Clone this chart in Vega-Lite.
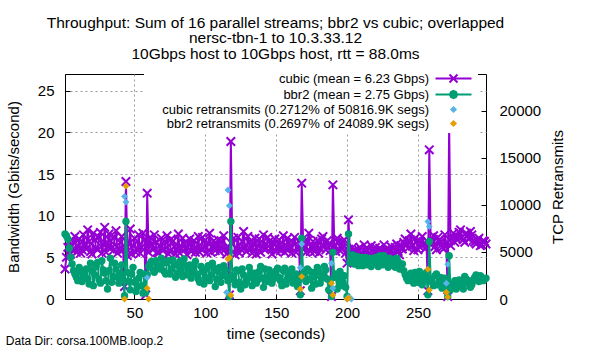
{
  "$schema": "https://vega.github.io/schema/vega-lite/v6.json",
  "autosize": {"type": "pad"},
  "padding": {"left": 5, "top": 15, "right": 5, "bottom": 5},
  "background": "white",
  "config": {"font": "Liberation Sans", "view": {"stroke": "black", "strokeWidth": 1}, "concat": {"spacing": 0}},
  "datasets": {
    "tput": [
      {"t":1,"cubic":3.6,"bbr2":7.8},{"t":3,"cubic":6.2,"bbr2":7.2},{"t":5,"cubic":5.4,"bbr2":5.0},{"t":7,"cubic":6.8,"bbr2":3.4},
      {"t":9,"cubic":5.6,"bbr2":2.6},{"t":11,"cubic":7.2,"bbr2":3.8},{"t":13,"cubic":5.9,"bbr2":2.1},{"t":15,"cubic":6.6,"bbr2":3.0},
      {"t":17,"cubic":8.3,"bbr2":2.4},{"t":19,"cubic":5.7,"bbr2":4.3},{"t":21,"cubic":7.9,"bbr2":1.6},{"t":23,"cubic":6.1,"bbr2":3.9},
      {"t":25,"cubic":7.4,"bbr2":2.3},{"t":27,"cubic":5.5,"bbr2":4.6},{"t":29,"cubic":8.6,"bbr2":3.1},{"t":31,"cubic":6.3,"bbr2":1.2},
      {"t":33,"cubic":7.0,"bbr2":4.9},{"t":35,"cubic":5.8,"bbr2":2.7},{"t":37,"cubic":8.2,"bbr2":3.6},{"t":39,"cubic":6.0,"bbr2":1.9},
      {"t":41,"cubic":7.5,"bbr2":4.1},{"t":43,"cubic":1.5,"bbr2":0.4},{"t":44,"cubic":14.1,"bbr2":9.3},{"t":45,"cubic":5.2,"bbr2":3.2},
      {"t":47,"cubic":8.4,"bbr2":1.1},{"t":49,"cubic":6.4,"bbr2":3.8},{"t":51,"cubic":5.6,"bbr2":0.9},{"t":53,"cubic":7.7,"bbr2":2.5},
      {"t":55,"cubic":6.2,"bbr2":1.6},{"t":57,"cubic":7.1,"bbr2":3.0},{"t":58,"cubic":0.5,"bbr2":0.8},{"t":59,"cubic":12.7,"bbr2":2.9},
      {"t":61,"cubic":7.4,"bbr2":4.2},{"t":63,"cubic":5.9,"bbr2":3.5},{"t":65,"cubic":6.8,"bbr2":4.6},{"t":67,"cubic":5.5,"bbr2":3.7},
      {"t":69,"cubic":7.3,"bbr2":4.9},{"t":71,"cubic":6.0,"bbr2":3.3},{"t":73,"cubic":7.6,"bbr2":4.4},{"t":75,"cubic":5.7,"bbr2":3.0},
      {"t":77,"cubic":6.9,"bbr2":4.7},{"t":79,"cubic":5.4,"bbr2":2.6},{"t":81,"cubic":7.8,"bbr2":4.0},{"t":83,"cubic":6.1,"bbr2":3.4},
      {"t":85,"cubic":6.7,"bbr2":4.8},{"t":87,"cubic":5.3,"bbr2":2.9},{"t":89,"cubic":7.2,"bbr2":4.1},{"t":91,"cubic":6.4,"bbr2":3.2},
      {"t":93,"cubic":5.6,"bbr2":4.5},{"t":95,"cubic":7.5,"bbr2":2.4},{"t":97,"cubic":6.0,"bbr2":3.9},{"t":99,"cubic":6.9,"bbr2":1.8},
      {"t":101,"cubic":5.5,"bbr2":3.6},{"t":103,"cubic":7.9,"bbr2":2.2},{"t":105,"cubic":6.3,"bbr2":4.3},{"t":107,"cubic":5.8,"bbr2":1.5},
      {"t":109,"cubic":7.1,"bbr2":3.3},{"t":111,"cubic":6.2,"bbr2":2.0},{"t":113,"cubic":7.6,"bbr2":4.0},{"t":115,"cubic":5.4,"bbr2":2.7},
      {"t":117,"cubic":0.5,"bbr2":0.3},{"t":118,"cubic":18.9,"bbr2":9.3},{"t":119,"cubic":6.6,"bbr2":2.8},{"t":121,"cubic":5.3,"bbr2":1.7},
      {"t":123,"cubic":7.4,"bbr2":3.4},{"t":125,"cubic":6.0,"bbr2":1.2},{"t":127,"cubic":8.1,"bbr2":2.9},{"t":129,"cubic":5.7,"bbr2":2.1},
      {"t":131,"cubic":6.8,"bbr2":3.8},{"t":133,"cubic":5.5,"bbr2":1.6},{"t":135,"cubic":7.3,"bbr2":3.1},{"t":137,"cubic":6.4,"bbr2":2.3},
      {"t":139,"cubic":5.6,"bbr2":3.9},{"t":141,"cubic":7.7,"bbr2":1.4},{"t":143,"cubic":6.1,"bbr2":2.6},{"t":145,"cubic":6.9,"bbr2":3.5},
      {"t":147,"cubic":5.4,"bbr2":1.9},{"t":149,"cubic":7.2,"bbr2":2.8},{"t":151,"cubic":6.3,"bbr2":3.7},{"t":153,"cubic":5.8,"bbr2":2.2},
      {"t":155,"cubic":7.6,"bbr2":3.4},{"t":157,"cubic":6.0,"bbr2":1.8},{"t":159,"cubic":6.7,"bbr2":2.9},{"t":161,"cubic":5.5,"bbr2":3.6},
      {"t":163,"cubic":7.4,"bbr2":2.4},{"t":165,"cubic":6.2,"bbr2":1.5},{"t":167,"cubic":1.0,"bbr2":0.5},{"t":168,"cubic":13.9,"bbr2":7.3},
      {"t":169,"cubic":6.8,"bbr2":3.0},{"t":171,"cubic":5.6,"bbr2":2.1},{"t":173,"cubic":7.9,"bbr2":3.4},{"t":175,"cubic":6.3,"bbr2":1.3},
      {"t":177,"cubic":5.7,"bbr2":2.7},{"t":179,"cubic":7.0,"bbr2":3.8},{"t":181,"cubic":6.1,"bbr2":1.9},{"t":183,"cubic":7.5,"bbr2":2.9},
      {"t":185,"cubic":5.9,"bbr2":3.5},{"t":187,"cubic":6.6,"bbr2":1.1},{"t":189,"cubic":0.3,"bbr2":0.3},{"t":190,"cubic":13.7,"bbr2":5.6},
      {"t":191,"cubic":6.4,"bbr2":2.6},{"t":193,"cubic":7.3,"bbr2":1.2},{"t":195,"cubic":5.8,"bbr2":3.3},{"t":197,"cubic":6.9,"bbr2":2.0},
      {"t":199,"cubic":5.5,"bbr2":1.4},{"t":200,"cubic":4.3,"bbr2":0.3},{"t":201,"cubic":9.5,"bbr2":7.8},{"t":203,"cubic":5.2,"bbr2":4.9},
      {"t":205,"cubic":5.8,"bbr2":4.2},{"t":207,"cubic":5.1,"bbr2":5.1},{"t":209,"cubic":6.2,"bbr2":4.5},{"t":211,"cubic":5.4,"bbr2":4.0},
      {"t":213,"cubic":6.0,"bbr2":5.0},{"t":215,"cubic":5.3,"bbr2":4.4},{"t":217,"cubic":6.4,"bbr2":3.9},{"t":219,"cubic":5.6,"bbr2":4.8},
      {"t":221,"cubic":5.0,"bbr2":4.3},{"t":223,"cubic":6.1,"bbr2":5.2},{"t":225,"cubic":5.4,"bbr2":4.1},{"t":227,"cubic":5.9,"bbr2":4.7},
      {"t":229,"cubic":5.2,"bbr2":3.8},{"t":231,"cubic":6.3,"bbr2":4.6},{"t":233,"cubic":5.5,"bbr2":4.0},{"t":235,"cubic":6.6,"bbr2":4.9},
      {"t":237,"cubic":5.3,"bbr2":3.6},{"t":239,"cubic":6.0,"bbr2":4.2},{"t":241,"cubic":7.2,"bbr2":2.9},{"t":243,"cubic":6.1,"bbr2":2.2},
      {"t":245,"cubic":7.8,"bbr2":3.1},{"t":247,"cubic":5.8,"bbr2":1.9},{"t":249,"cubic":6.9,"bbr2":2.6},{"t":251,"cubic":6.3,"bbr2":3.3},
      {"t":253,"cubic":7.5,"bbr2":1.7},{"t":255,"cubic":6.0,"bbr2":2.8},{"t":257,"cubic":1.0,"bbr2":0.5},{"t":258,"cubic":17.9,"bbr2":6.9},
      {"t":259,"cubic":6.5,"bbr2":2.4},{"t":261,"cubic":7.6,"bbr2":1.6},{"t":263,"cubic":5.9,"bbr2":3.0},{"t":265,"cubic":7.1,"bbr2":2.1},
      {"t":267,"cubic":6.2,"bbr2":1.3},{"t":269,"cubic":7.7,"bbr2":2.5},{"t":271,"cubic":0.3,"bbr2":0.3},{"t":272,"cubic":20.8,"bbr2":5.2},
      {"t":273,"cubic":6.4,"bbr2":1.1},{"t":275,"cubic":7.9,"bbr2":1.8},{"t":277,"cubic":7.2,"bbr2":1.2},{"t":279,"cubic":8.0,"bbr2":2.3},
      {"t":281,"cubic":7.4,"bbr2":1.5},{"t":283,"cubic":6.8,"bbr2":2.7},{"t":285,"cubic":7.6,"bbr2":1.9},{"t":287,"cubic":8.1,"bbr2":1.4},
      {"t":289,"cubic":7.0,"bbr2":2.2},{"t":291,"cubic":6.6,"bbr2":2.9},{"t":293,"cubic":7.3,"bbr2":2.1},{"t":295,"cubic":6.5,"bbr2":2.6},
      {"t":297,"cubic":6.9,"bbr2":2.4},
      {"t":2,"cubic":5.0,"bbr2":7.6},{"t":4,"cubic":6.9,"bbr2":6.1},{"t":6,"cubic":5.9,"bbr2":4.2},{"t":8,"cubic":7.5,"bbr2":3.0},
      {"t":10,"cubic":6.3,"bbr2":2.2},{"t":12,"cubic":5.5,"bbr2":3.3},{"t":14,"cubic":7.7,"bbr2":2.7},{"t":16,"cubic":6.0,"bbr2":3.6},
      {"t":18,"cubic":6.9,"bbr2":1.8},{"t":20,"cubic":5.4,"bbr2":3.4},{"t":22,"cubic":7.1,"bbr2":2.9},{"t":24,"cubic":5.9,"bbr2":4.4},
      {"t":26,"cubic":8.0,"bbr2":1.9},{"t":28,"cubic":6.5,"bbr2":3.5},{"t":30,"cubic":5.6,"bbr2":2.2},{"t":32,"cubic":7.8,"bbr2":3.4},
      {"t":34,"cubic":6.2,"bbr2":2.0},{"t":36,"cubic":7.4,"bbr2":4.3},{"t":38,"cubic":5.5,"bbr2":2.6},{"t":40,"cubic":6.8,"bbr2":3.1},
      {"t":42,"cubic":5.9,"bbr2":2.4},{"t":46,"cubic":6.6,"bbr2":2.1},{"t":48,"cubic":5.4,"bbr2":3.0},{"t":50,"cubic":7.3,"bbr2":2.0},
      {"t":52,"cubic":6.0,"bbr2":1.4},{"t":54,"cubic":5.5,"bbr2":3.2},{"t":56,"cubic":7.9,"bbr2":0.7},{"t":60,"cubic":5.6,"bbr2":3.9},
      {"t":62,"cubic":6.6,"bbr2":4.5},{"t":64,"cubic":7.7,"bbr2":3.2},{"t":66,"cubic":5.6,"bbr2":4.0},{"t":68,"cubic":6.4,"bbr2":3.6},
      {"t":70,"cubic":5.8,"bbr2":4.3},{"t":72,"cubic":6.8,"bbr2":3.0},{"t":74,"cubic":5.4,"bbr2":4.6},{"t":76,"cubic":7.2,"bbr2":3.6},
      {"t":78,"cubic":6.3,"bbr2":4.2},{"t":80,"cubic":6.0,"bbr2":3.1},{"t":82,"cubic":5.5,"bbr2":4.5},{"t":84,"cubic":7.3,"bbr2":2.7},
      {"t":86,"cubic":6.0,"bbr2":4.0},{"t":88,"cubic":6.6,"bbr2":3.4},{"t":90,"cubic":5.7,"bbr2":2.5},{"t":92,"cubic":7.0,"bbr2":3.9},
      {"t":94,"cubic":6.1,"bbr2":3.0},{"t":96,"cubic":5.6,"bbr2":2.0},{"t":98,"cubic":7.4,"bbr2":3.3},{"t":100,"cubic":6.2,"bbr2":2.6},
      {"t":102,"cubic":6.7,"bbr2":4.0},{"t":104,"cubic":5.6,"bbr2":2.9},{"t":106,"cubic":7.0,"bbr2":3.7},{"t":108,"cubic":6.4,"bbr2":2.4},
      {"t":110,"cubic":5.7,"bbr2":3.8},{"t":112,"cubic":6.9,"bbr2":2.8},{"t":114,"cubic":6.0,"bbr2":3.5},{"t":116,"cubic":6.3,"bbr2":2.2},
      {"t":120,"cubic":7.3,"bbr2":2.3},{"t":122,"cubic":6.1,"bbr2":3.5},{"t":124,"cubic":5.5,"bbr2":2.0},{"t":126,"cubic":6.9,"bbr2":3.6},
      {"t":128,"cubic":6.2,"bbr2":1.7},{"t":130,"cubic":7.5,"bbr2":2.5},{"t":132,"cubic":6.0,"bbr2":3.2},{"t":134,"cubic":6.6,"bbr2":2.7},
      {"t":136,"cubic":5.4,"bbr2":1.9},{"t":138,"cubic":7.2,"bbr2":3.3},{"t":140,"cubic":6.3,"bbr2":2.5},{"t":142,"cubic":5.9,"bbr2":3.6},
      {"t":144,"cubic":7.4,"bbr2":2.1},{"t":146,"cubic":6.1,"bbr2":3.1},{"t":148,"cubic":6.6,"bbr2":2.4},{"t":150,"cubic":5.7,"bbr2":3.4},
      {"t":152,"cubic":7.1,"bbr2":2.6},{"t":154,"cubic":6.2,"bbr2":1.6},{"t":156,"cubic":5.6,"bbr2":3.7},{"t":158,"cubic":7.3,"bbr2":2.4},
      {"t":160,"cubic":6.1,"bbr2":3.2},{"t":162,"cubic":6.8,"bbr2":1.9},{"t":164,"cubic":5.6,"bbr2":3.0},{"t":166,"cubic":7.0,"bbr2":2.3},
      {"t":170,"cubic":6.1,"bbr2":2.6},{"t":172,"cubic":7.0,"bbr2":3.6},{"t":174,"cubic":5.7,"bbr2":2.4},{"t":176,"cubic":6.9,"bbr2":3.2},
      {"t":178,"cubic":6.2,"bbr2":1.8},{"t":180,"cubic":5.5,"bbr2":3.3},{"t":182,"cubic":7.2,"bbr2":2.5},{"t":184,"cubic":6.4,"bbr2":3.9},
      {"t":186,"cubic":7.0,"bbr2":2.4},{"t":188,"cubic":5.8,"bbr2":2.2},{"t":192,"cubic":5.7,"bbr2":3.0},{"t":194,"cubic":6.8,"bbr2":2.4},
      {"t":196,"cubic":6.2,"bbr2":1.6},{"t":198,"cubic":7.1,"bbr2":2.8},{"t":202,"cubic":5.7,"bbr2":4.4},{"t":204,"cubic":6.2,"bbr2":5.3},
      {"t":206,"cubic":5.5,"bbr2":4.6},{"t":208,"cubic":5.9,"bbr2":4.0},{"t":210,"cubic":5.3,"bbr2":5.0},{"t":212,"cubic":6.5,"bbr2":4.5},
      {"t":214,"cubic":5.7,"bbr2":4.1},{"t":216,"cubic":5.1,"bbr2":4.9},{"t":218,"cubic":5.9,"bbr2":4.2},{"t":220,"cubic":6.2,"bbr2":5.0},
      {"t":222,"cubic":5.5,"bbr2":3.9},{"t":224,"cubic":5.8,"bbr2":4.5},{"t":226,"cubic":6.5,"bbr2":5.2},{"t":228,"cubic":5.5,"bbr2":4.2},
      {"t":230,"cubic":5.9,"bbr2":4.9},{"t":232,"cubic":5.3,"bbr2":4.3},{"t":234,"cubic":6.2,"bbr2":3.8},{"t":236,"cubic":5.7,"bbr2":4.5},
      {"t":238,"cubic":6.4,"bbr2":4.0},{"t":240,"cubic":6.8,"bbr2":3.4},{"t":242,"cubic":6.5,"bbr2":2.5},{"t":244,"cubic":7.0,"bbr2":2.8},
      {"t":246,"cubic":6.4,"bbr2":2.3},{"t":248,"cubic":7.3,"bbr2":3.2},{"t":250,"cubic":5.9,"bbr2":2.0},{"t":252,"cubic":6.9,"bbr2":2.7},
      {"t":254,"cubic":6.6,"bbr2":2.1},{"t":256,"cubic":7.0,"bbr2":3.2},{"t":260,"cubic":6.9,"bbr2":2.0},{"t":262,"cubic":6.3,"bbr2":2.8},
      {"t":264,"cubic":7.4,"bbr2":1.7},{"t":266,"cubic":6.8,"bbr2":2.6},{"t":268,"cubic":6.0,"bbr2":1.9},{"t":270,"cubic":6.7,"bbr2":1.5},
      {"t":274,"cubic":7.3,"bbr2":1.5},{"t":276,"cubic":6.8,"bbr2":2.2},{"t":278,"cubic":7.5,"bbr2":1.6},{"t":280,"cubic":8.3,"bbr2":2.0},
      {"t":282,"cubic":7.1,"bbr2":1.2},{"t":284,"cubic":7.9,"bbr2":2.4},{"t":286,"cubic":7.2,"bbr2":2.2},{"t":288,"cubic":7.7,"bbr2":1.7},
      {"t":290,"cubic":6.8,"bbr2":2.6},{"t":292,"cubic":7.1,"bbr2":2.4},{"t":294,"cubic":6.4,"bbr2":2.8},{"t":296,"cubic":7.0,"bbr2":2.2},
      {"t":298,"cubic":6.6,"bbr2":2.5}
    ],
    "retx": [
      {"t":43,"cubic_retx":10900,"bbr2_retx":0},
      {"t":44,"cubic_retx":10300,"bbr2_retx":12000},
      {"t":59,"cubic_retx":2270,"bbr2_retx":1140},
      {"t":60,"bbr2_retx":0},
      {"t":115,"cubic_retx":700},
      {"t":116,"cubic_retx":11570,"bbr2_retx":4250},
      {"t":117,"cubic_retx":9900,"bbr2_retx":4400},
      {"t":118,"bbr2_retx":400},
      {"t":167,"cubic_retx":3330,"bbr2_retx":1060},
      {"t":168,"cubic_retx":5840,"bbr2_retx":2380},
      {"t":189,"cubic_retx":3790,"bbr2_retx":1670},
      {"t":190,"cubic_retx":1140,"bbr2_retx":430},
      {"t":200,"cubic_retx":0,"bbr2_retx":0},
      {"t":201,"cubic_retx":200,"bbr2_retx":100},
      {"t":203,"cubic_retx":0},
      {"t":257,"cubic_retx":8220,"bbr2_retx":3150},
      {"t":258,"cubic_retx":7690,"bbr2_retx":960},
      {"t":270,"cubic_retx":1670,"bbr2_retx":710},
      {"t":271,"cubic_retx":3680,"bbr2_retx":200}
    ]
  },
  "title": {"text": "Data Dir: corsa.100MB.loop.2", "orient": "bottom", "anchor": "start", "frame": "bounds", "fontSize": 12, "fontWeight": "normal", "color": "black", "offset": -6},
  "vconcat": [
    {
      "width": 421,
      "height": 225,
      "title": {
        "text": ["Throughput: Sum of 16 parallel streams; bbr2 vs cubic; overlapped", "nersc-tbn-1 to 10.3.33.12", "10Gbps host to 10Gbps host, rtt = 88.0ms"],
        "fontSize": 15.5, "fontWeight": "normal", "color": "black", "lineHeight": 15.5, "anchor": "middle", "frame": "group", "offset": 12
      },
      "resolve": {"scale": {"y": "independent"}},
      "layer": [
        {
          "data": {"name": "tput"},
          "layer": [
            {
              "mark": {"type": "line", "strokeWidth": 2},
              "encoding": {
                "x": {"field": "t", "type": "quantitative", "scale": {"domain": [1, 298], "nice": false, "zero": false},
                      "axis": {"values": [50, 100, 150, 200, 250], "title": "time (seconds)", "grid": true, "gridDash": [2, 3], "gridColor": "#999999",
                               "domainColor": "black", "tickColor": "black", "tickSize": -5, "labelPadding": 11, "labelFontSize": 15, "labelColor": "black",
                               "titleFontSize": 15, "titleFontWeight": "normal", "titleColor": "black", "titlePadding": 6}},
                "y": {"field": "cubic", "type": "quantitative", "title": "Bandwidth (Gbits/second)", "scale": {"domain": [0, 27], "nice": false},
                      "axis": {"values": [0, 5, 10, 15, 20, 25], "grid": true, "gridDash": [2, 3], "gridColor": "#999999",
                               "domainColor": "black", "tickColor": "black", "tickSize": -5, "labelPadding": 16, "labelFontSize": 15, "labelColor": "black",
                               "titleFontSize": 15, "titleFontWeight": "normal", "titleColor": "black", "titlePadding": 16}},
                "color": {"datum": "cubic",
                          "scale": {"domain": ["cubic", "bbr2", "cubic retransmits", "bbr2 retransmits"], "range": ["#9400D3", "#009E73", "#56B4E9", "#E69F00"]},
                          "legend": {
                            "title": null, "orient": "none", "legendX": 79, "legendY": -4, "padding": 2, "fillColor": "white",
                            "labelAlign": "right", "labelOffset": -31, "symbolOffset": 301, "labelFontSize": 13, "labelColor": "black", "labelLimit": 0,
                            "symbolSize": 64, "symbolStrokeWidth": 2, "rowPadding": -1,
                            "labelExpr": "datum.value === 'cubic' ? 'cubic (mean = 6.23 Gbps)' : datum.value === 'bbr2' ? 'bbr2 (mean = 2.75 Gbps)' : datum.value === 'cubic retransmits' ? 'cubic retransmits (0.2712% of 50816.9K segs)' : 'bbr2 retransmits (0.2697% of 24089.9K segs)'",
                            "encode": {"symbols": {"update": {
                              "shape": {"signal": "datum.value === 'cubic' ? 'M-4.5,0L4.5,0M-1,-1L1,1M-1,1L1,-1' : datum.value === 'bbr2' ? 'M-4.5,0L4.5,0M0.9,0L0.64,0.64L0,0.9L-0.64,0.64L-0.9,0L-0.64,-0.64L0,-0.9L0.64,-0.64Z' : 'M0,-0.9L0.9,0L0,0.9L-0.9,0Z'"},
                              "fill": {"scale": "color", "field": "value"},
                              "stroke": {"scale": "color", "field": "value"},
                              "strokeWidth": {"signal": "datum.index < 2 ? 2 : 0"},
                              "opacity": {"value": 1},
                              "fillOpacity": {"value": 1}
                            }}}
                          }}
              }
            },
            {
              "mark": {"type": "point", "shape": "M-1,-1L1,1M-1,1L1,-1", "size": 72, "filled": false, "strokeWidth": 2, "opacity": 1},
              "encoding": {
                "x": {"field": "t", "type": "quantitative"},
                "y": {"field": "cubic", "type": "quantitative", "title": "Bandwidth (Gbits/second)"},
                "color": {"datum": "cubic"}
              }
            },
            {
              "mark": {"type": "line", "strokeWidth": 2},
              "encoding": {
                "x": {"field": "t", "type": "quantitative"},
                "y": {"field": "bbr2", "type": "quantitative", "title": "Bandwidth (Gbits/second)"},
                "color": {"datum": "bbr2"}
              }
            },
            {
              "mark": {"type": "point", "shape": "circle", "size": 55, "filled": true, "opacity": 1},
              "encoding": {
                "x": {"field": "t", "type": "quantitative"},
                "y": {"field": "bbr2", "type": "quantitative", "title": "Bandwidth (Gbits/second)"},
                "color": {"datum": "bbr2"}
              }
            }
          ]
        },
        {
          "data": {"name": "retx"},
          "layer": [
            {
              "mark": {"type": "point", "shape": "diamond", "size": 48, "filled": true, "opacity": 1},
              "encoding": {
                "x": {"field": "t", "type": "quantitative"},
                "y": {"field": "cubic_retx", "type": "quantitative", "title": "TCP Retransmits", "scale": {"domain": [0, 23900], "nice": false},
                      "axis": {"orient": "right", "values": [0, 5000, 10000, 15000, 20000], "format": "d", "grid": false, "domain": false,
                               "tickColor": "black", "tickSize": -5, "labelPadding": 18, "labelFontSize": 15, "labelColor": "black",
                               "titleFontSize": 15, "titleFontWeight": "normal", "titleColor": "black", "titlePadding": 10,
                               "titleAngle": 270, "titleBaseline": "top"}},
                "color": {"datum": "cubic retransmits"}
              }
            },
            {
              "mark": {"type": "point", "shape": "diamond", "size": 48, "filled": true, "opacity": 1},
              "encoding": {
                "x": {"field": "t", "type": "quantitative"},
                "y": {"field": "bbr2_retx", "type": "quantitative", "title": "TCP Retransmits"},
                "color": {"datum": "bbr2 retransmits"}
              }
            }
          ]
        }
      ]
    }
  ]
}
